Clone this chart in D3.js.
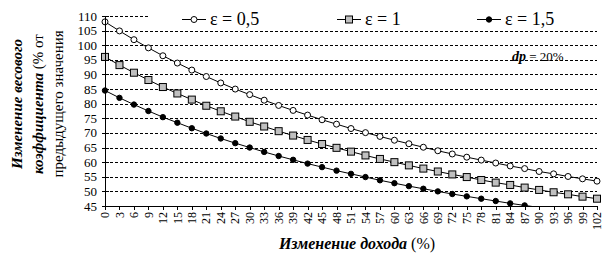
<!DOCTYPE html>
<html>
<head>
<meta charset="utf-8">
<script src="https://cdn.jsdelivr.net/npm/d3@7"></script>
<style>
body { margin: 0; background: #fff; }
text { font-family: "Liberation Serif", "Times New Roman", serif; fill: #000; }
</style>
</head>
<body>
<div id="chart"></div>
<script>
// income change, % (category axis)
var income = [0, 3, 6, 9, 12, 15, 18, 21, 24, 27, 30, 33, 36, 39, 42, 45, 48, 51, 54, 57,
              60, 63, 66, 69, 72, 75, 78, 81, 84, 87, 90, 93, 96, 99, 102];
// weight coefficient change, % of previous value
var eps05 = [108.0, 104.9, 101.9, 99.1, 96.4, 93.9, 91.5, 89.3, 87.1, 85.0, 83.1, 81.2, 79.4, 77.7, 76.1,
             74.5, 73.0, 71.5, 70.1, 68.8, 67.5, 66.3, 65.1, 63.9, 62.8, 61.7, 60.7, 59.7, 58.7, 57.8,
             56.8, 56.0, 55.1, 54.3, 53.5];
var eps1 = [96.0, 93.2, 90.6, 88.1, 85.7, 83.5, 81.4, 79.3, 77.4, 75.6, 73.8, 72.2, 70.6, 69.1, 67.6,
            66.2, 64.9, 63.6, 62.3, 61.1, 60.0, 58.9, 57.8, 56.8, 55.8, 54.9, 53.9, 53.0, 52.2, 51.3,
            50.5, 49.7, 49.0, 48.2, 47.5];
var eps15 = [84.5, 82.0, 79.7, 77.5, 75.4, 73.5, 71.6, 69.8, 68.1, 66.5, 65.0, 63.5, 62.1, 60.8, 59.5,
             58.3, 57.1, 56.0, 54.9, 53.8, 52.8, 51.8, 50.9, 50.0, 49.1, 48.3, 47.5, 46.7, 45.9, 45.2,
             44.5, 43.8, 43.1, 42.5, 41.8];
var seriesNames = ['ε = 0,5', 'ε = 1', 'ε = 1,5'];
var yTicks = [45, 50, 55, 60, 65, 70, 75, 80, 85, 90, 95, 100, 105, 110];

var W = 614, H = 268;
var pLeft = 105, pRight = 597, pTop = 16, pBottom = 206;

var svg = d3.select('#chart')
    .append('svg')
    .attr('width', W)
    .attr('height', H)
    .style('display', 'block');

var x = d3.scalePoint()
    .domain(income)
    .range([pLeft, pRight])
    .padding(0);

var y = d3.scaleLinear()
    .domain([45, 110])
    .range([pBottom, pTop]);

// dashed grid
svg.append('g')
    .selectAll('line')
    .data(yTicks.filter(function(d){ return d > 45 }))
    .enter()
    .append('line')
    .attr('x1', pLeft)
    .attr('x2', pRight)
    .attr('y1', function(d){ return Math.round(y(d)) + 0.5 })
    .attr('y2', function(d){ return Math.round(y(d)) + 0.5 })
    .attr('stroke', '#000')
    .attr('stroke-width', 1)
    .attr('stroke-dasharray', '3,2')

// clip for values below the axis minimum
svg.append('clipPath')
    .attr('id', 'plotclip')
    .append('rect')
    .attr('x', pLeft - 8)
    .attr('y', pTop - 8)
    .attr('width', pRight - pLeft + 16)
    .attr('height', pBottom - pTop + 8.5)

var series = [
    {name: seriesNames[0], values: eps05, marker: 'open'},
    {name: seriesNames[1], values: eps1, marker: 'square'},
    {name: seriesNames[2], values: eps15, marker: 'dot'}
];

var line = d3.line()
    .x(function(d, i){ return x(income[i]) })
    .y(function(d){ return y(d) })

function drawMarker(g, kind, cx, cy) {
    if (kind == 'square') {
        g.append('rect')
            .attr('x', cx - 3.5)
            .attr('y', cy - 3.5)
            .attr('width', 7)
            .attr('height', 7)
            .attr('fill', '#c0c0c0')
            .attr('stroke', '#000')
            .attr('stroke-width', 1)
    } else {
        g.append('circle')
            .attr('cx', cx)
            .attr('cy', cy)
            .attr('r', kind == 'open' ? 3 : 2.7)
            .attr('fill', kind == 'open' ? '#fff' : '#000')
            .attr('stroke', '#000')
            .attr('stroke-width', 1)
    }
}

var plot = svg.append('g').attr('clip-path', 'url(#plotclip)');

series.forEach(function(s){
    plot.append('path')
        .attr('d', line(s.values))
        .attr('fill', 'none')
        .attr('stroke', '#000')
        .attr('stroke-width', 1)
    s.values.forEach(function(v, i){
        if (v >= 45) drawMarker(plot, s.marker, x(income[i]), y(v))
    })
})

// axes
var yAxis = svg.append('g');
yAxis.append('line')
    .attr('x1', pLeft + 0.5).attr('x2', pLeft + 0.5)
    .attr('y1', pTop).attr('y2', pBottom)
    .attr('stroke', '#000')
yAxis.selectAll('.tick')
    .data(yTicks)
    .enter()
    .append('line')
    .attr('x1', pLeft - 3).attr('x2', pLeft + 4)
    .attr('y1', function(d){ return Math.round(y(d)) + 0.5 })
    .attr('y2', function(d){ return Math.round(y(d)) + 0.5 })
    .attr('stroke', '#000')
yAxis.selectAll('text')
    .data(yTicks)
    .enter()
    .append('text')
    .attr('x', 97)
    .attr('y', function(d){ return y(d) })
    .attr('dy', '0.35em')
    .attr('text-anchor', 'end')
    .style('font-size', '13px')
    .text(function(d){ return d })

var xAxis = svg.append('g');
xAxis.append('line')
    .attr('x1', pLeft).attr('x2', pRight + 1)
    .attr('y1', pBottom + 0.5).attr('y2', pBottom + 0.5)
    .attr('stroke', '#000')
xAxis.selectAll('.tick')
    .data(income)
    .enter()
    .append('line')
    .attr('x1', function(d){ return Math.round(x(d)) + 0.5 })
    .attr('x2', function(d){ return Math.round(x(d)) + 0.5 })
    .attr('y1', pBottom).attr('y2', pBottom + 4)
    .attr('stroke', '#000')
xAxis.selectAll('text')
    .data(income)
    .enter()
    .append('text')
    .attr('transform', function(d){ return 'translate(' + x(d) + ',' + (pBottom + 6) + ') rotate(-90)' })
    .attr('dy', '0.35em')
    .attr('text-anchor', 'end')
    .style('font-size', '12px')
    .text(function(d){ return d })

// legend
var legend = svg.append('g');
legend.append('rect')
    .attr('x', 148).attr('y', 6)
    .attr('width', 452).attr('height', 23)
    .attr('fill', '#fff')
var legendPos = [194, 349, 489];
series.forEach(function(s, i){
    var cx = legendPos[i];
    legend.append('line')
        .attr('x1', cx - 12).attr('x2', cx + 12)
        .attr('y1', 19.5).attr('y2', 19.5)
        .attr('stroke', '#000')
    drawMarker(legend, s.marker, cx, 19.5)
    legend.append('text')
        .attr('x', cx + 16)
        .attr('y', 25)
        .style('font-size', '18px')
        .text(s.name)
})

// annotation
var note = svg.append('text')
    .attr('x', 512)
    .attr('y', 61)
    .style('font-size', '13px')
note.append('tspan').style('font-weight', 'bold').style('font-style', 'italic').style('font-size', '14px').text('dp')
note.append('tspan').text(' = 20%')

// axis titles
var xt = svg.append('text')
    .attr('x', 357)
    .attr('y', 249)
    .attr('text-anchor', 'middle')
    .style('font-size', '16px')
xt.append('tspan').style('font-weight', 'bold').style('font-style', 'italic').text('Изменение дохода')
xt.append('tspan').text('  (%)')

var yt1 = svg.append('text')
    .attr('transform', 'translate(22,104) rotate(-90)')
    .attr('text-anchor', 'middle')
    .style('font-size', '15px')
    .style('font-weight', 'bold')
    .style('font-style', 'italic')
    .text('Изменение весового')
var yt2 = svg.append('text')
    .attr('transform', 'translate(43,104) rotate(-90)')
    .attr('text-anchor', 'middle')
    .style('font-size', '15px')
yt2.append('tspan').style('font-weight', 'bold').style('font-style', 'italic').text('коэффициента')
yt2.append('tspan').text(' (% от')
svg.append('text')
    .attr('transform', 'translate(63,104) rotate(-90)')
    .attr('text-anchor', 'middle')
    .style('font-size', '15px')
    .text('предыдущего значения')
</script>
</body>
</html>
